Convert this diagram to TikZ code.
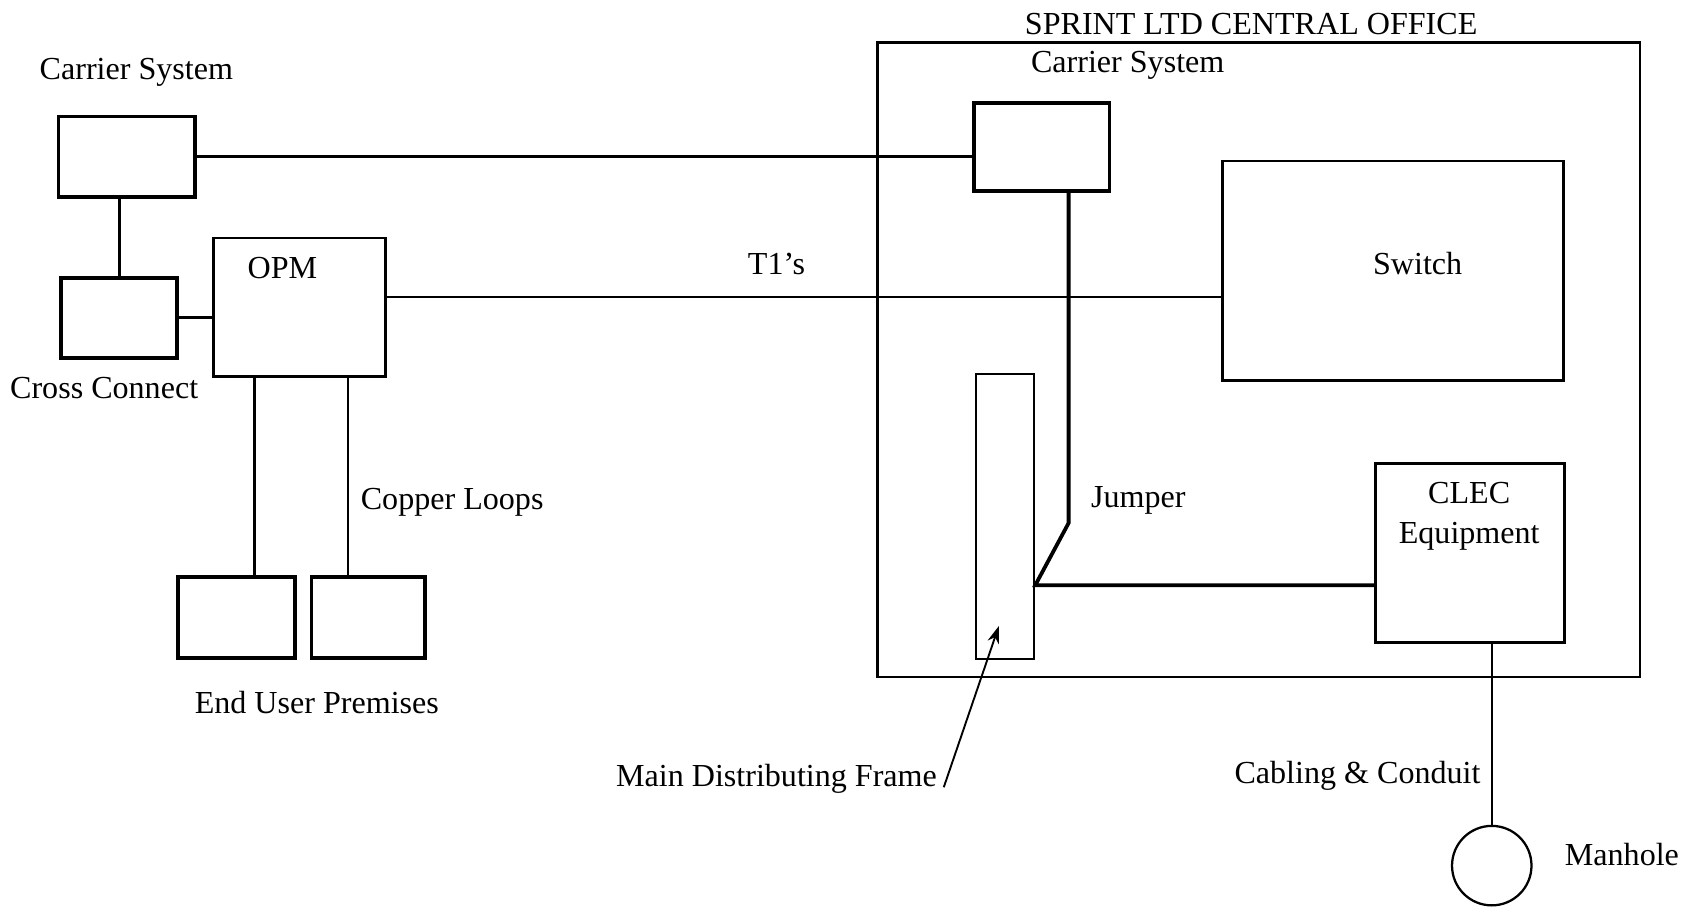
\documentclass[tikz,border=0pt]{standalone}
\usepackage{fontspec}
\setmainfont{Liberation Serif}
\usetikzlibrary{arrows.meta}

\begin{document}
\begin{tikzpicture}[
  x=0.1mm, y=-0.1mm,
  font=\fontsize{8.5}{10.5}\selectfont,
  unit/.style={rectangle, draw=black, line width=1pt, inner sep=0pt},
  room/.style={rectangle, draw=black, line width=0.7pt, inner sep=0pt},
  wire/.style={line width=0.75pt},
  pointer/.style={-{Stealth[length=1.6mm,width=1.1mm]}, line width=0.5pt}
]
\useasboundingbox (0,0) rectangle (1568,845);

% outside plant
\node[unit, minimum width=12.7mm, minimum height=7.5mm] (cs) at (118,146) {};
\node[unit, minimum width=10.8mm, minimum height=7.5mm] (xc) at (111,296) {};
\node[room, minimum width=16mm, minimum height=12.9mm] (opm) at (279,286) {};
\node[unit, minimum width=10.9mm, minimum height=7.6mm] (eu1) at (220,575) {};
\node[unit, minimum width=10.6mm, minimum height=7.5mm] (eu2) at (343,575) {};

\node (cslbl) at (127,67) {Carrier System};
\node (xclbl) at (97,361) {Cross Connect};
\node (opmlbl) at (263,250) {OPM};
\node (culbl) at (421,468) {Copper Loops};
\node (eulbl) at (295,654) {End User Premises};

% central office
\node[room, minimum width=71mm, minimum height=59.1mm] (co) at (1172,335) {};
\node (colbl) at (1165,22) {SPRINT LTD CENTRAL OFFICE};
\node[unit, minimum width=12.6mm, minimum height=8.2mm] (cocs) at (970,137) {};
\node (cocslbl) at (1050,61) {Carrier System};
\node[room, minimum width=31.7mm, minimum height=20.4mm] (sw) at (1297,252) {};
\node (swlbl) at (1320,245) {Switch};
\node[room, line width=0.5pt, minimum width=5.4mm, minimum height=26.5mm] (mdf) at (936,481) {};
\node[room, minimum width=17.6mm, minimum height=16.7mm] (clec) at (1369,515) {};
\node[align=center] (cleclbl) at (1368,481) {CLEC\\Equipment};
\node (jplbl) at (1060,466) {Jumper};
\node (t1lbl) at (723,246) {T1's};

% outside the office
\node[circle, draw=black, line width=0.6pt, minimum size=7.4mm, inner sep=0pt] (mh) at (1389,806) {};
\node[anchor=east, inner sep=0pt] (mhlbl) at (1564,796) {Manhole};
\node (cclbl) at (1264,722) {Cabling \& Conduit};
\node (mdflbl) at (723,725) {Main Distributing Frame};

\coordinate (jbend) at (995,487);
\coordinate (jend) at ([yshift=-6.4mm]mdf.east);
\coordinate (mdfpt) at (930,583);

\draw[wire] (cs.east) -- (cs.east -| cocs.west);
\draw[wire] (xc.north) -- (xc.north |- cs.south);
\draw[wire] (xc.east) -- (xc.east -| opm.west);
\draw[wire] ([yshift=0.95mm]opm.east) -- ([yshift=0.95mm]opm.east -| sw.west);
\draw[wire] ([xshift=-4.2mm]opm.south) -- ([xshift=-4.2mm]opm.south |- eu1.north);
\draw[wire] ([xshift=4.5mm]opm.south) -- ([xshift=4.5mm]opm.south |- eu2.north);
\draw[wire, line width=1pt] ([xshift=2.5mm]cocs.south) -- ([xshift=2.5mm]cocs.south |- jbend) -- (jend) -- (jend -| clec.west);
\draw[wire, line width=0.6pt] (mh.north) -- (mh.north |- clec.south);
\draw[pointer] ([xshift=-0.6mm,yshift=-0.8mm]mdflbl.east) -- (mdfpt);
\end{tikzpicture}
\end{document}
